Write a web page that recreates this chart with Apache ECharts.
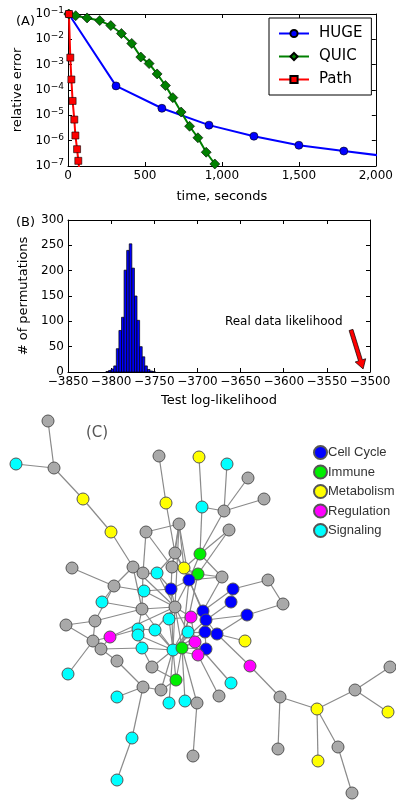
<!DOCTYPE html>
<html>
<head>
<meta charset="utf-8">
<script src="https://cdn.jsdelivr.net/npm/echarts@6/dist/echarts.min.js"></script>
<style>
html, body { margin: 0; padding: 0; background: #fff; }
#chart { width: 396px; height: 800px; }
</style>
</head>
<body>
<div id="chart"></div>
<script>
// (A) convergence: time in seconds vs relative error
var hugeTime = [5, 312, 610, 916, 1208, 1500, 1792, 2150];
var hugeErr = [1e-1, 1.45e-4, 1.9e-5, 4.1e-6, 1.5e-6, 6.6e-7, 3.9e-7, 2.1e-7];
var quicTime = [5, 50, 124, 206, 278, 347, 414, 473, 527, 579, 633, 681, 735, 790, 844, 898, 954];
var quicErr = [1e-1, 8.6e-2, 7e-2, 5.5e-2, 3.5e-2, 1.7e-2, 6.9e-3, 2.0e-3, 1.1e-3, 4.3e-4, 1.5e-4, 5.0e-5, 1.35e-5, 3.7e-6, 1.3e-6, 3.5e-7, 1.2e-7];
var pathTime = [6, 15, 22, 30, 41, 48, 59, 67, 75];
var pathErr = [1e-1, 1.9e-3, 2.6e-4, 3.7e-5, 6.8e-6, 1.6e-6, 4.6e-7, 1.6e-7, 6e-8];

// (B) permutation histogram
var binLeft = [-3806, -3803, -3800, -3797, -3794, -3791, -3788, -3785, -3782, -3779, -3776, -3773, -3770, -3767, -3764, -3761, -3758, -3755, -3752];
var binCount = [1, 3, 6, 12, 46, 82, 108, 201, 240, 253, 205, 150, 102, 50, 30, 12, 5, 2, 1];
var binWidth = 3;
var arrowFrom = [-3522, 83];
var arrowTo = [-3508, 6];
var noteAt = [-3600, 99];

// (C) network
var catNames = ['Cell Cycle', 'Immune', 'Metabolism', 'Regulation', 'Signaling', 'Other'];
var nodeX = [48,16,54,83,111,159,166,179,146,199,
  227,248,264,202,224,229,175,200,172,184,
  157,198,222,189,171,233,268,133,143,72,
  114,144,102,142,175,191,203,206,169,231,
  283,247,95,66,138,138,155,110,93,101,
  188,205,217,245,195,142,173,182,206,198,
  250,117,152,68,176,231,143,161,117,169,
  185,197,132,193,117,280,317,355,390,388,
  278,318,338,352,219];
var nodeY = [421,464,468,499,532,456,503,524,532,457,
  464,478,499,507,511,530,553,554,567,568,
  573,574,577,580,589,589,580,567,573,568,
  586,591,602,609,607,617,611,620,619,602,
  604,615,621,625,629,635,630,637,641,649,
  632,632,634,641,642,648,650,648,649,655,
  666,661,667,674,680,683,687,690,697,703,
  701,703,738,756,780,697,709,690,667,712,
  749,761,747,793,696];
var nodeCat = [5,4,5,2,2,5,2,5,5,2,
  4,5,5,4,5,5,5,1,5,2,
  4,1,5,0,0,0,5,5,5,5,
  5,4,4,5,5,3,0,0,4,0,
  5,0,5,5,4,4,4,3,5,5,
  4,0,0,2,3,4,4,1,0,3,
  3,5,5,4,1,4,5,5,4,4,
  4,5,4,5,4,5,2,5,5,2,
  5,2,5,5,5];
var edges = [
  [1,3],[2,3],[3,4],[4,5],[5,28],[6,7],[7,17],
  [10,14],[14,18],[14,15],[11,15],[12,15],[13,15],[15,18],[16,18],[16,22],
  [9,8],[9,29],[9,19],[8,17],[8,19],[8,24],[8,35],[8,20],
  [17,19],[17,20],[17,24],
  [28,31],[28,29],[28,34],[28,35],[30,31],
  [31,32],[31,33],[31,43],[32,25],[32,35],[33,34],
  [43,44],[44,49],[43,49],[43,34],
  [48,49],[48,50],[48,45],[48,35],[49,50],[49,64],[50,56],[50,62],[62,67],
  [56,63],[63,65],[63,57],
  [45,46],[45,34],[46,56],[45,47],[47,35],[47,57],[39,35],[39,57],[39,36],
  [34,35],[34,57],[56,57],[46,57],
  [67,68],[67,69],[67,73],[73,75],[68,57],[68,65],[70,57],[71,58],[72,74],[72,58],[85,60],[66,55],
  [65,57],[65,58],[61,53],[61,76],[54,53],
  [76,81],[76,77],[77,82],[77,83],[83,84],[77,78],[78,79],[78,80],
  [27,41],[27,26],[41,42],
  [23,18],[23,22],[23,37],[23,24],
  [26,40],[26,37],[40,38],[42,38],[42,53],
  [24,22],[24,18],[24,20],[24,25],[24,37],[24,38],[24,35],[24,58],
  [25,35],[25,21],[25,19],[25,57],
  [21,29],[21,35],[21,17],[20,22],[20,18],[19,22],
  [36,37],[36,55],[36,57],[36,35],
  [37,38],[38,52],[52,53],[52,59],[59,60],[55,60],[51,52],[51,57],[51,35],[53,38],
  [55,58],[58,35],[58,22],[58,59],[57,35],[57,38],[57,52],[55,57],[60,57],[29,34]
];

var catColors = ['#0000ff', '#00ee00', '#ffff00', '#ff00ff', '#00ffff', '#a9a9a9'];
var font = 'DejaVu Sans';

var chart = echarts.init(document.getElementById('chart'), null, { renderer: 'canvas' });

function pairs(xs, ys) {
  return xs.map(function (x, i) { return [x, ys[i]]; });
}

function frameAxis(extra) {
  var base = {
    axisLine: { show: true, onZero: false, lineStyle: { color: '#000', width: 1 } },
    axisTick: { show: true, inside: true, length: 4, lineStyle: { color: '#000' } },
    axisLabel: { show: false },
    splitLine: { show: false }
  };
  return Object.assign(base, extra);
}

var tickLabel = { show: true, color: '#000', fontSize: 12, fontFamily: font, margin: 4 };
var axisName = { color: '#000', fontSize: 13, fontFamily: font };

function logLabel(v) {
  var e = Math.round(Math.log10(v));
  return '{b|10}{sup|' + (e < 0 ? '\u2212' + (-e) : e) + '}';
}

var nodes = nodeX.map(function (x, i) {
  return { name: 'n' + i, x: x, y: nodeY[i], category: nodeCat[i] };
});
var links = edges.map(function (e) {
  return { source: 'n' + (e[0] - 1), target: 'n' + (e[1] - 1) };
});

var option = {
  animation: false,
  backgroundColor: '#fff',
  textStyle: { fontFamily: font },
  graphic: [
    { type: 'text', left: 16, top: 15, style: { text: '(A)', fontSize: 13, fontFamily: font, fill: '#000' } },
    { type: 'text', left: 16, top: 216, style: { text: '(B)', fontSize: 13, fontFamily: font, fill: '#000' } },
    { type: 'text', left: 86, top: 426, style: { text: '(C)', fontSize: 15, fontFamily: font, fill: '#555' } }
  ],
  legend: [
    {
      data: ['HUGE', 'QUIC', 'Path'],
      orient: 'vertical', left: 269, top: 18,
      itemWidth: 30, itemHeight: 9, itemGap: 8,
      padding: [8, 9, 8, 9],
      borderColor: '#000', borderWidth: 1, backgroundColor: '#fff',
      textStyle: { fontSize: 15, fontFamily: font, color: '#000', padding: [0, 0, 0, 5] },
      selectedMode: false
    },
    {
      data: catNames.slice(0, 5),
      orient: 'vertical', left: 313, top: 445, padding: 0,
      icon: 'circle', itemWidth: 13, itemHeight: 13, itemGap: 4.5,
      textStyle: { fontSize: 13, fontFamily: 'Liberation Sans', color: '#333', padding: [0, 0, 0, -4] },
      selectedMode: false
    }
  ],
  grid: [
    { left: 68, top: 14, width: 308, height: 152 },
    { left: 68, top: 220, width: 302, height: 152 }
  ],
  xAxis: [
    frameAxis({ gridIndex: 0, type: 'value', min: 0, max: 2000, interval: 500, position: 'bottom',
      axisLabel: tickLabel, name: 'time, seconds', nameLocation: 'middle', nameGap: 24, nameTextStyle: axisName }),
    frameAxis({ gridIndex: 0, type: 'value', min: 0, max: 2000, interval: 500, position: 'top' }),
    frameAxis({ gridIndex: 1, type: 'value', min: -3850, max: -3500, interval: 50, position: 'bottom',
      axisLabel: Object.assign({}, tickLabel, { formatter: function (v) { return String(v).replace('-', '\u2212'); } }),
      name: 'Test log-likelihood', nameLocation: 'middle', nameGap: 22, nameTextStyle: axisName }),
    frameAxis({ gridIndex: 1, type: 'value', min: -3850, max: -3500, interval: 50, position: 'top' })
  ],
  yAxis: [
    frameAxis({ gridIndex: 0, type: 'log', logBase: 10, min: 1e-7, max: 1e-1, splitNumber: 6, position: 'left',
      axisLabel: Object.assign({}, tickLabel, {
        formatter: logLabel,
        rich: {
          b: { fontSize: 12, fontFamily: font, color: '#000' },
          sup: { fontSize: 9, fontFamily: font, color: '#000', padding: [0, 0, 7, 0] }
        }
      }),
      name: 'relative error', nameLocation: 'middle', nameGap: 41, nameTextStyle: axisName }),
    frameAxis({ gridIndex: 0, type: 'log', logBase: 10, min: 1e-7, max: 1e-1, splitNumber: 6, position: 'right' }),
    frameAxis({ gridIndex: 1, type: 'value', min: 0, max: 300, interval: 50, position: 'left',
      axisLabel: tickLabel, name: '# of permutations', nameLocation: 'middle', nameGap: 34, nameTextStyle: axisName }),
    frameAxis({ gridIndex: 1, type: 'value', min: 0, max: 300, interval: 50, position: 'right' })
  ],
  series: [
    {
      name: 'HUGE', type: 'line', xAxisIndex: 0, yAxisIndex: 0, data: pairs(hugeTime, hugeErr),
      symbol: 'circle', symbolSize: 8, clip: true,
      lineStyle: { color: '#0000ff', width: 2 },
      itemStyle: { color: '#0000ff', borderColor: '#000', borderWidth: 0.6 }
    },
    {
      name: 'QUIC', type: 'line', xAxisIndex: 0, yAxisIndex: 0, data: pairs(quicTime, quicErr),
      symbol: 'diamond', symbolSize: 10, clip: true,
      lineStyle: { color: '#008000', width: 2 },
      itemStyle: { color: '#008000', borderColor: '#000', borderWidth: 0.6 }
    },
    {
      name: 'Path', type: 'line', xAxisIndex: 0, yAxisIndex: 0, data: pairs(pathTime, pathErr),
      symbol: 'rect', symbolSize: 7, clip: true,
      lineStyle: { color: '#ff0000', width: 2 },
      itemStyle: { color: '#ff0000', borderColor: '#000', borderWidth: 0.6 }
    },
    {
      type: 'custom', xAxisIndex: 2, yAxisIndex: 2,
      data: pairs(binLeft, binCount),
      encode: { x: 0, y: 1 },
      renderItem: function (params, api) {
        var p0 = api.coord([api.value(0), 0]);
        var p1 = api.coord([api.value(0) + binWidth, api.value(1)]);
        return {
          type: 'rect',
          shape: { x: p0[0], y: p1[1], width: p1[0] - p0[0], height: p0[1] - p1[1] },
          style: { fill: '#0000ff', stroke: '#000', lineWidth: 0.7 }
        };
      }
    },
    {
      type: 'custom', xAxisIndex: 2, yAxisIndex: 2,
      data: [[arrowFrom[0], arrowFrom[1], arrowTo[0], arrowTo[1], noteAt[0], noteAt[1]]],
      renderItem: function (params, api) {
        var tail = api.coord([api.value(0), api.value(1)]);
        var tip = api.coord([api.value(2), api.value(3)]);
        var note = api.coord([api.value(4), api.value(5)]);
        var dx = tip[0] - tail[0], dy = tip[1] - tail[1];
        var len = Math.sqrt(dx * dx + dy * dy);
        var ux = dx / len, uy = dy / len, nx = -uy, ny = ux;
        var hw = 2, hh = 5.5, hl = 9;
        var bx = tip[0] - ux * hl, by = tip[1] - uy * hl;
        var pts = [
          [tail[0] + nx * hw, tail[1] + ny * hw], [bx + nx * hw, by + ny * hw], [bx + nx * hh, by + ny * hh],
          tip, [bx - nx * hh, by - ny * hh], [bx - nx * hw, by - ny * hw], [tail[0] - nx * hw, tail[1] - ny * hw]
        ];
        return {
          type: 'group',
          children: [
            { type: 'polygon', shape: { points: pts }, style: { fill: '#ff0000', stroke: '#000', lineWidth: 0.7 } },
            { type: 'text', x: note[0], y: note[1],
              style: { text: 'Real data likelihood', fontSize: 12, fontFamily: font, fill: '#000', align: 'center', verticalAlign: 'middle' } }
          ]
        };
      }
    },
    {
      type: 'graph', layout: 'none',
      left: 16, top: 421, width: 374, height: 372,
      roam: false, symbolSize: 12,
      categories: catNames.map(function (n, i) {
        return { name: n, itemStyle: { color: catColors[i], borderColor: '#555', borderWidth: 1 } };
      }),
      data: nodes, links: links,
      label: { show: false },
      lineStyle: { color: '#8a8a8a', width: 1.2, opacity: 1, curveness: 0 },
      itemStyle: { borderColor: '#555', borderWidth: 1 },
      emphasis: { disabled: true },
      legendHoverLink: false
    }
  ]
};

chart.setOption(option);
</script>
</body>
</html>
